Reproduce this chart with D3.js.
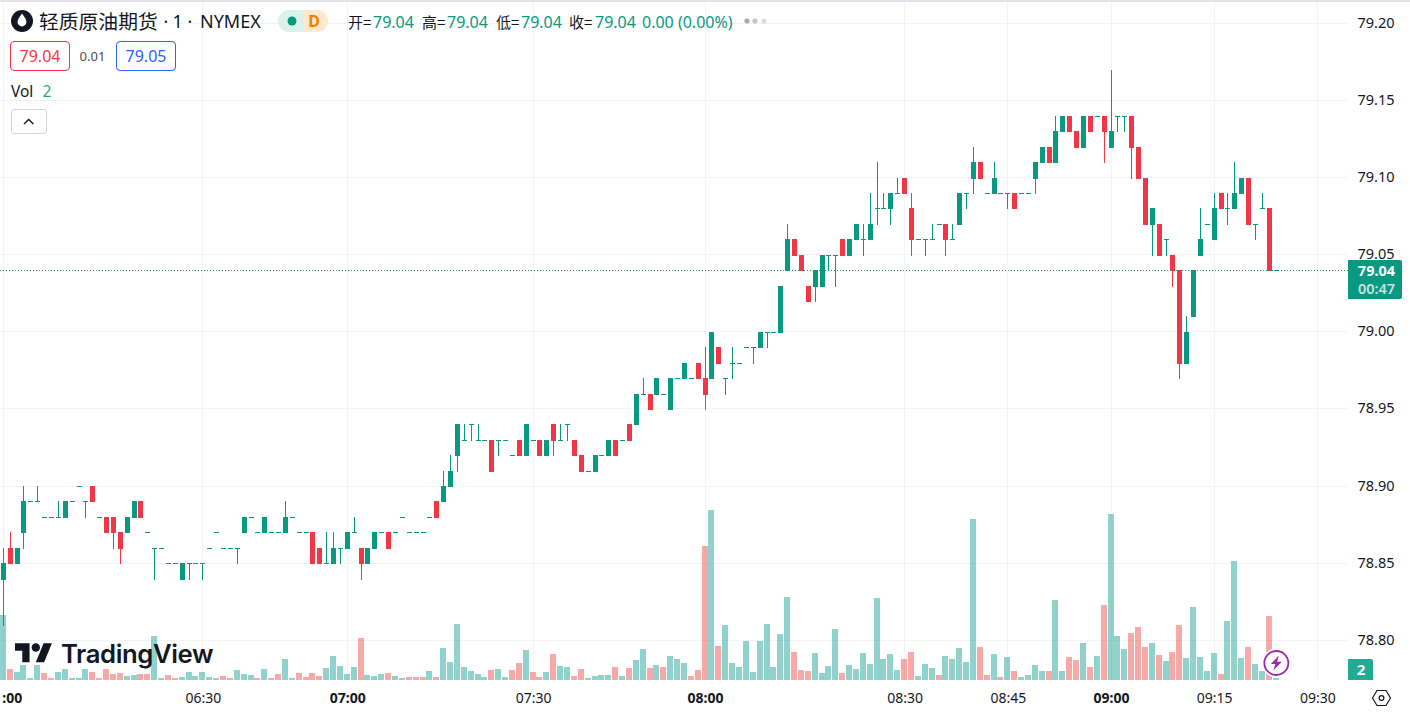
<!DOCTYPE html>
<html>
<head>
<meta charset="utf-8">
<script src="https://cdn.jsdelivr.net/npm/d3@7"></script>
<style>
    html, body { margin: 0; padding: 0; background: #fff; overflow: hidden; }
    text { font-family: "Noto Sans", "Noto Sans CJK SC", sans-serif; fill: #131722; }
    .cjk { font-family: "Noto Sans CJK SC", sans-serif; }
</style>
</head>
<body>
<div id="chart"></div>
<script>
var opens = [
    78.84,78.86,78.85,78.87,78.89,78.89,78.88,78.88,78.88,78.88,
    78.89,78.90,78.89,78.90,78.88,78.88,78.88,78.87,78.87,78.88,
    78.89,78.87,78.86,78.86,78.85,78.85,78.84,78.85,78.85,78.85,
    78.86,78.87,78.86,78.86,78.86,78.87,78.88,78.87,78.87,78.87,
    78.87,78.87,78.88,78.87,78.87,78.87,78.86,78.85,78.85,78.86,
    78.86,78.87,78.86,78.85,78.86,78.87,78.87,78.87,78.88,78.87,
    78.87,78.87,78.88,78.89,78.89,78.90,78.92,78.93,78.94,78.93,
    78.93,78.93,78.93,78.93,78.92,78.93,78.92,78.93,78.93,78.92,
    78.94,78.93,78.94,78.93,78.92,78.91,78.91,78.92,78.92,78.93,
    78.93,78.94,78.94,78.96,78.96,78.96,78.96,78.95,78.97,78.97,
    78.97,78.98,78.97,78.97,78.99,78.97,78.98,78.98,78.99,78.99,
    78.99,79.00,79.00,79.00,79.04,79.06,79.05,79.03,79.03,79.03,
    79.05,79.05,79.06,79.05,79.06,79.06,79.06,79.08,79.08,79.08,
    79.09,79.10,79.08,79.06,79.06,79.06,79.07,79.07,79.06,79.07,
    79.09,79.10,79.11,79.09,79.09,79.09,79.09,79.09,79.09,79.09,
    79.10,79.11,79.12,79.11,79.13,79.14,79.13,79.12,79.14,79.14,
    79.14,79.12,79.14,79.14,79.14,79.12,79.10,79.07,79.07,79.06,
    79.05,79.04,78.98,79.01,79.05,79.07,79.06,79.09,79.08,79.08,
    79.09,79.10,79.07,79.08,79.08,79.04
];
var highs = [
    78.86,78.87,78.86,78.90,78.89,78.90,78.88,78.88,78.89,78.89,
    78.89,78.90,78.89,78.90,78.88,78.88,78.88,78.87,78.88,78.89,
    78.89,78.87,78.86,78.86,78.85,78.85,78.85,78.85,78.85,78.85,
    78.86,78.87,78.86,78.86,78.86,78.88,78.88,78.87,78.88,78.87,
    78.87,78.89,78.88,78.87,78.87,78.87,78.86,78.87,78.87,78.86,
    78.87,78.88,78.86,78.86,78.87,78.87,78.87,78.87,78.88,78.87,
    78.87,78.87,78.88,78.89,78.91,78.92,78.94,78.94,78.94,78.94,
    78.93,78.93,78.93,78.93,78.92,78.93,78.94,78.93,78.93,78.93,
    78.94,78.94,78.94,78.93,78.92,78.91,78.92,78.92,78.93,78.93,
    78.93,78.94,78.96,78.97,78.96,78.97,78.96,78.97,78.97,78.98,
    78.97,78.98,78.99,79.00,78.99,78.97,78.99,78.98,78.99,78.99,
    79.00,79.00,79.00,79.03,79.07,79.06,79.05,79.03,79.04,79.05,
    79.05,79.05,79.06,79.06,79.07,79.07,79.09,79.11,79.09,79.09,
    79.10,79.10,79.09,79.06,79.06,79.07,79.07,79.07,79.07,79.09,
    79.09,79.12,79.11,79.09,79.11,79.09,79.09,79.09,79.09,79.09,
    79.11,79.12,79.12,79.14,79.14,79.14,79.13,79.14,79.14,79.14,
    79.14,79.17,79.14,79.14,79.14,79.12,79.10,79.08,79.07,79.06,
    79.05,79.04,79.01,79.04,79.08,79.07,79.09,79.09,79.09,79.11,
    79.10,79.10,79.07,79.09,79.08,79.04
];
var lows = [
    78.81,78.85,78.85,78.86,78.89,78.89,78.88,78.88,78.88,78.88,
    78.89,78.90,78.88,78.89,78.88,78.87,78.86,78.85,78.87,78.88,
    78.88,78.87,78.84,78.86,78.85,78.85,78.84,78.84,78.85,78.84,
    78.86,78.87,78.86,78.86,78.85,78.87,78.88,78.87,78.87,78.87,
    78.87,78.87,78.88,78.87,78.87,78.85,78.85,78.85,78.85,78.85,
    78.86,78.87,78.84,78.85,78.86,78.87,78.86,78.87,78.88,78.87,
    78.87,78.87,78.88,78.88,78.89,78.90,78.91,78.93,78.93,78.93,
    78.93,78.91,78.92,78.93,78.92,78.92,78.92,78.93,78.92,78.92,
    78.92,78.93,78.93,78.92,78.91,78.91,78.91,78.92,78.92,78.92,
    78.93,78.93,78.94,78.96,78.95,78.96,78.96,78.95,78.97,78.97,
    78.97,78.97,78.95,78.97,78.98,78.96,78.97,78.98,78.99,78.98,
    78.99,78.99,79.00,79.00,79.04,79.05,79.04,79.02,79.02,79.03,
    79.04,79.03,79.05,79.05,79.06,79.05,79.06,79.07,79.08,79.07,
    79.09,79.09,79.05,79.06,79.05,79.06,79.07,79.05,79.06,79.07,
    79.08,79.09,79.10,79.09,79.09,79.09,79.08,79.08,79.09,79.09,
    79.09,79.11,79.11,79.11,79.13,79.13,79.12,79.12,79.13,79.14,
    79.11,79.12,79.13,79.13,79.10,79.10,79.07,79.05,79.05,79.05,
    79.03,78.97,78.98,79.01,79.05,79.07,79.06,79.08,79.07,79.08,
    79.09,79.07,79.06,79.08,79.04,79.04
];
var closes = [
    78.85,78.85,78.86,78.89,78.89,78.89,78.88,78.88,78.88,78.89,
    78.89,78.90,78.89,78.89,78.88,78.87,78.87,78.86,78.88,78.89,
    78.88,78.87,78.86,78.86,78.85,78.85,78.85,78.85,78.85,78.85,
    78.86,78.87,78.86,78.86,78.86,78.88,78.88,78.87,78.88,78.87,
    78.87,78.88,78.88,78.87,78.87,78.85,78.85,78.85,78.86,78.86,
    78.87,78.87,78.85,78.86,78.87,78.87,78.86,78.87,78.88,78.87,
    78.87,78.87,78.88,78.88,78.90,78.91,78.94,78.93,78.94,78.93,
    78.93,78.91,78.93,78.93,78.92,78.92,78.94,78.93,78.92,78.93,
    78.93,78.93,78.94,78.92,78.91,78.91,78.92,78.92,78.93,78.92,
    78.93,78.93,78.96,78.96,78.95,78.97,78.96,78.97,78.97,78.98,
    78.97,78.97,78.96,79.00,78.98,78.97,78.98,78.98,78.99,78.99,
    79.00,79.00,79.00,79.03,79.06,79.05,79.04,79.02,79.04,79.05,
    79.05,79.05,79.05,79.06,79.07,79.06,79.07,79.08,79.08,79.09,
    79.09,79.09,79.06,79.06,79.06,79.06,79.07,79.06,79.06,79.09,
    79.09,79.11,79.10,79.09,79.10,79.09,79.09,79.08,79.09,79.09,
    79.11,79.12,79.11,79.13,79.14,79.13,79.12,79.14,79.13,79.14,
    79.13,79.13,79.14,79.14,79.12,79.10,79.07,79.08,79.05,79.06,
    79.04,78.98,79.00,79.04,79.06,79.07,79.08,79.08,79.08,79.09,
    79.10,79.07,79.07,79.08,79.04,79.04
];
var volumes = [
    65,11,8,15,2,15,7,2,8,11,
    2,2,11,8,2,11,6,7,4,5,
    6,6,44,2,5,2,3,8,4,8,
    3,2,4,2,10,6,5,2,11,2,
    6,21,2,7,3,7,4,12,24,14,
    6,13,42,5,4,6,7,4,2,3,
    3,3,9,3,32,18,56,13,9,6,
    3,10,11,3,10,17,30,8,3,8,
    26,14,13,4,11,2,4,5,5,13,
    4,12,20,31,12,15,13,24,21,17,
    4,10,134,170,34,55,17,13,39,8,
    39,56,13,46,83,28,10,9,27,7,
    14,51,7,15,11,27,16,82,21,26,
    10,21,28,4,16,12,5,24,21,32,
    18,161,33,5,26,3,23,9,3,5,
    15,9,9,80,9,23,20,37,13,24,
    75,166,44,31,47,53,33,37,25,19,
    28,55,22,73,23,9,27,6,59,119,
    22,33,16,9,64,2
];
// 1 = green volume bar, 0 = red
var volumeUp = [
    1,0,1,1,1,1,0,0,1,1,
    1,1,1,0,0,0,0,0,1,1,
    0,0,1,1,0,0,1,1,1,1,
    1,1,0,0,1,1,1,0,1,0,
    0,1,1,0,0,0,0,1,1,1,
    1,1,0,1,1,1,0,1,1,0,
    0,0,1,0,1,1,1,1,1,1,
    1,0,1,1,0,0,1,0,0,1,
    0,1,1,0,0,1,1,1,1,0,
    1,0,1,1,0,1,0,1,1,1,
    0,0,0,1,0,1,1,1,1,1,
    1,1,1,1,1,0,0,0,1,1,
    1,1,0,1,1,1,1,1,1,1,
    1,0,0,1,1,1,0,1,1,1,
    1,1,0,0,1,0,1,0,1,1,
    1,1,0,1,1,0,0,1,0,1,
    0,1,1,1,0,0,0,1,0,1,
    0,0,1,1,1,1,1,0,1,1,
    1,0,1,1,0,1
];

var priceTicks = [78.80, 78.85, 78.90, 78.95, 79.00, 79.05, 79.10, 79.15, 79.20];
var timeTickBars = [0, 29, 50, 77, 102, 131, 146, 161, 176, 191];
// the first label is cut by the left edge in the reference, only ":00" shows
var timeTickLabels = [":00", "06:30", "07:00", "07:30", "08:00", "08:30", "08:45", "09:00", "09:15", "09:30"];
var boldTimes = [":00", "07:00", "08:00", "09:00"];
var lastPrice = 79.04;

var width = 1410, height = 714;
var plotRight = 1348, plotBottom = 680;
var green = "#089981", red = "#f23645", teal = "#22ab94";

var svg = d3.select("#chart").append("svg")
    .attr("width", width)
    .attr("height", height)
    .style("display", "block");

var x = d3.scaleLinear().domain([0, 191]).range([3.33, 1317.4]);
var y = d3.scaleLinear().domain([78.80, 79.20]).range([640.3, 23.3]);
var yVol = d3.scaleLinear().domain([0, 170]).range([plotBottom, plotBottom - 170]);

// top strip
svg.append("rect").attr("width", width).attr("height", 2).attr("fill", "#e0e3eb");

// grid
var grid = svg.append("g").attr("shape-rendering", "crispEdges");
grid.selectAll(".h").data(priceTicks).enter().append("rect")
    .attr("x", 0).attr("width", plotRight).attr("height", 1)
    .attr("y", function(d) { return Math.floor(y(d)); })
    .attr("fill", "#f2f3f5");
grid.selectAll(".v").data(timeTickBars).enter().append("rect")
    .attr("y", 2).attr("width", 1).attr("height", plotBottom - 2)
    .attr("x", function(d) { return Math.floor(x(d)); })
    .attr("fill", "#f2f3f5");

// volume
var bars = d3.range(opens.length);
svg.append("g").attr("shape-rendering", "crispEdges")
    .selectAll("rect").data(bars).enter().append("rect")
    .attr("x", function(i) { return Math.floor(x(i)) - 3; })
    .attr("width", 6)
    .attr("y", function(i) { return yVol(volumes[i]); })
    .attr("height", function(i) { return plotBottom - yVol(volumes[i]); })
    .attr("fill", function(i) { return volumeUp[i] ? "rgba(38,166,154,0.5)" : "rgba(239,83,80,0.5)"; });

// TradingView logo, drawn over the volume bars
var logo = svg.append("g").attr("transform", "translate(15,639) scale(1.04,1.06)");
logo.append("path").attr("fill", "#131722")
    .attr("d", "M14 22H7V11H0V4h14v18zM28 22h-8l7.5-18h8L28 22z");
logo.append("circle").attr("cx", 20).attr("cy", 8).attr("r", 4).attr("fill", "#131722");
svg.append("text").attr("x", 61).attr("y", 663)
    .style("font-family", "Inter, sans-serif")
    .style("font-size", "25.7px")
    .style("font-weight", 600)
    .style("letter-spacing", "-0.4px")
    .text("TradingView");

// candles
var candles = svg.append("g").attr("shape-rendering", "crispEdges");
var color = function(i) { return closes[i] >= opens[i] ? green : red; };
candles.selectAll(".wick").data(bars).enter().append("rect")
    .attr("x", function(i) { return Math.floor(x(i)); })
    .attr("width", 1)
    .attr("y", function(i) { return Math.round(y(highs[i])); })
    .attr("height", function(i) { return Math.round(y(lows[i])) - Math.round(y(highs[i])) + 1; })
    .attr("fill", color);
candles.selectAll(".body").data(bars).enter().append("rect")
    .attr("x", function(i) { return Math.floor(x(i)) - 2; })
    .attr("width", 5)
    .attr("y", function(i) { return Math.round(y(Math.max(opens[i], closes[i]))); })
    .attr("height", function(i) {
        return Math.round(y(Math.min(opens[i], closes[i]))) - Math.round(y(Math.max(opens[i], closes[i]))) + 1;
    })
    .attr("fill", color);

// last price line
svg.append("line")
    .attr("x1", 0).attr("x2", plotRight)
    .attr("y1", Math.floor(y(lastPrice)) + 0.5).attr("y2", Math.floor(y(lastPrice)) + 0.5)
    .attr("stroke", green).attr("stroke-width", 1).attr("stroke-dasharray", "1,2");

// price axis
var yAxis = d3.axisRight(y).tickValues(priceTicks).tickSize(0).tickPadding(0)
    .tickFormat(d3.format(".2f"));
var yAxisG = svg.append("g").attr("transform", "translate(1357.5,0)").call(yAxis);
yAxisG.select(".domain").remove();
yAxisG.selectAll("text").style("font-size", "14.5px").style("font-family", null).attr("fill", null).attr("dy", "0.28em");

// time axis
var xAxis = d3.axisBottom(x).tickValues(timeTickBars).tickSize(0).tickPadding(0)
    .tickFormat(function(d, i) { return timeTickLabels[i]; });
var xAxisG = svg.append("g").attr("transform", "translate(0,693)").call(xAxis);
xAxisG.select(".domain").remove();
xAxisG.selectAll("text")
    .style("font-size", "14px")
    .style("font-family", null)
    .attr("fill", null)
    .style("font-weight", function(d, i) { return boldTimes.indexOf(timeTickLabels[i]) >= 0 ? 700 : 400; });
xAxisG.selectAll("text").filter(function(d, i) { return i === 0; })
    .attr("text-anchor", "start").attr("x", -1.5);

// price label on the axis
var lab = svg.append("g");
lab.append("path").attr("fill", green).attr("d", "M1348 260H1400a2 2 0 0 1 2 2V297a2 2 0 0 1-2 2H1348Z");
lab.append("text").attr("x", 1376.5).attr("y", 276).attr("text-anchor", "middle")
    .style("fill", "#fff").style("font-size", "14.5px").style("font-weight", 700).text("79.04");
lab.append("text").attr("x", 1376.5).attr("y", 294).attr("text-anchor", "middle")
    .style("fill", "#fff").style("fill-opacity", 0.75).style("font-size", "14.5px").style("font-weight", 600).text("00:47");

// volume label on the axis
lab.append("path").attr("fill", teal).attr("d", "M1348 659H1371a2 2 0 0 1 2 2V680H1348Z");
lab.append("text").attr("x", 1361).attr("y", 675).attr("text-anchor", "middle")
    .style("fill", "#fff").style("font-size", "15px").style("font-weight", 700).text("2");

// lightning badge on the last bar
var bolt = svg.append("g").attr("transform", "translate(" + (x(185) + 0.2) + ",663)");
bolt.append("circle").attr("r", 14.5).attr("fill", "#fff");
bolt.append("circle").attr("r", 12).attr("fill", "#fff").attr("stroke", "#9c27b0").attr("stroke-width", 1.8);
bolt.append("path").attr("fill", "#9c27b0").attr("d", "M2.5 -7.5L-5.5 1H-0.8L-3 7.5L5.5 -1.2H0.8Z");

// settings hexagon
var gear = svg.append("g").attr("transform", "translate(1381.5,698)")
    .attr("fill", "none").attr("stroke", "#131722").attr("stroke-width", 1.2);
gear.append("path").attr("d", "M-9 0L-4.5 -7.5H4.5L9 0L4.5 7.5H-4.5Z");
gear.append("circle").attr("r", 2.4);

// header: symbol and badges
var head = svg.append("g");
head.append("circle").attr("cx", 22).attr("cy", 21).attr("r", 11).attr("fill", "#131722");
head.append("path").attr("fill", "#fff").attr("d", "M22 13.5C19.5 17 17.6 19.3 17.6 22a4.4 4.4 0 0 0 8.8 0C26.4 19.3 24.5 17 22 13.5Z");
head.append("text").attr("class", "cjk").attr("x", 39).attr("y", 29)
    .style("font-size", "19.8px").text("轻质原油期货");
head.selectAll(".sym").data([[163.5, "·"], [172.5, "1"], [187.5, "·"], [200, "NYMEX"]]).enter().append("text")
    .attr("x", function(d) { return d[0]; }).attr("y", 28)
    .style("font-size", "18px")
    .text(function(d) { return d[1]; });

head.append("path").attr("fill", "#daf1ec").attr("d", "M303 10H289a11 11 0 0 0 0 22H303Z");
head.append("path").attr("fill", "#ffe9cc").attr("d", "M303 10H317a11 11 0 0 1 0 22H303Z");
head.append("circle").attr("cx", 292).attr("cy", 21).attr("r", 4.5).attr("fill", green);
head.append("text").attr("x", 314).attr("y", 26.7).attr("text-anchor", "middle")
    .style("fill", "#f57c00").style("font-size", "16px").style("font-weight", 700).text("D");

// OHLC line
var ohlcItems = [
    { x: 348, t: "开=", cjk: true }, { x: 373, t: "79.04" },
    { x: 422, t: "高=", cjk: true }, { x: 447, t: "79.04" },
    { x: 496, t: "低=", cjk: true }, { x: 521, t: "79.04" },
    { x: 569, t: "收=", cjk: true }, { x: 595, t: "79.04" },
    { x: 642, t: "0.00 (0.00%)" }
];
head.selectAll(".ohlc").data(ohlcItems).enter().append("text")
    .attr("x", function(d) { return d.x; })
    .attr("y", 28)
    .attr("class", function(d) { return d.cjk ? "cjk" : null; })
    .style("font-size", function(d) { return d.cjk ? "15px" : "16px"; })
    .style("fill", function(d) { return d.cjk ? "#131722" : green; })
    .text(function(d) { return d.t; });
head.selectAll(".dot").data([[747, "#a8a6ae"], [755, "#c4c4c9"], [764, "#dcdce0"]]).enter().append("circle")
    .attr("cx", function(d) { return d[0]; }).attr("cy", 21).attr("r", 2.6)
    .attr("fill", function(d) { return d[1]; });

// bid / ask boxes
head.append("rect").attr("x", 10.5).attr("y", 41.5).attr("width", 59).attr("height", 29).attr("rx", 3.5)
    .attr("fill", "#fff").attr("stroke", red);
head.append("text").attr("x", 40).attr("y", 62).attr("text-anchor", "middle")
    .style("fill", red).style("font-size", "16px").text("79.04");
head.append("text").attr("x", 92.5).attr("y", 61).attr("text-anchor", "middle")
    .style("fill", "#4a4d57").style("font-size", "13px").text("0.01");
head.append("rect").attr("x", 116.5).attr("y", 41.5).attr("width", 59).attr("height", 29).attr("rx", 3.5)
    .attr("fill", "#fff").attr("stroke", "#2962ff");
head.append("text").attr("x", 146).attr("y", 62).attr("text-anchor", "middle")
    .style("fill", "#2962ff").style("font-size", "16px").text("79.05");

// volume legend and collapse button
head.append("text").attr("x", 11).attr("y", 96.5).style("font-size", "15.5px").text("Vol");
head.append("text").attr("x", 42.5).attr("y", 96.5).style("font-size", "15.5px").style("fill", teal).text("2");
head.append("rect").attr("x", 11.5).attr("y", 109.5).attr("width", 35).attr("height", 24).attr("rx", 2.5)
    .attr("fill", "#fff").attr("stroke", "#d1d4dc");
head.append("path").attr("fill", "none").attr("stroke", "#131722").attr("stroke-width", 1.4)
    .attr("d", "M24 124L28.7 119.5L33.4 124");
</script>
</body>
</html>
